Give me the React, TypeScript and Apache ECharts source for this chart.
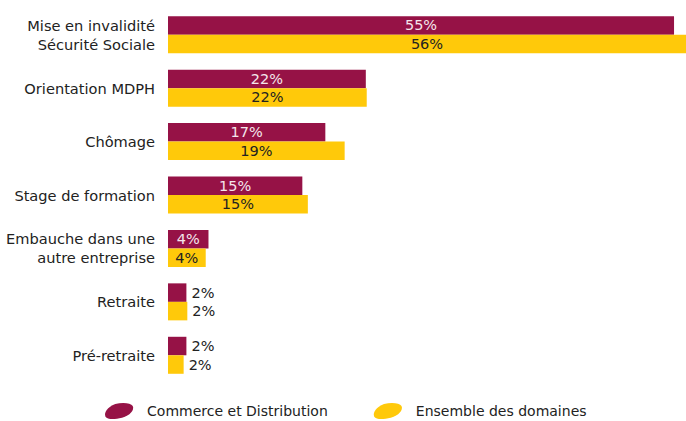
import React, { useEffect, useRef } from "react";
import * as echarts from "echarts";

const categories = [
  "Mise en invalidité\nSécurité Sociale",
  "Orientation MDPH",
  "Chômage",
  "Stage de formation",
  "Embauche dans une\nautre entreprise",
  "Retraite",
  "Pré-retraite",
];
const seriesNames = ["Commerce et Distribution", "Ensemble des domaines"];
const commerceValues = [55, 21.5, 17.1, 14.6, 4.4, 2.0, 2.0];
const ensembleValues = [56.3, 21.6, 19.2, 15.2, 4.1, 2.1, 1.7];
const commerceLabels = ["55%", "22%", "17%", "15%", "4%", "2%", "2%"];
const ensembleLabels = ["56%", "22%", "19%", "15%", "4%", "2%", "2%"];

const PURPLE = "#961246";
const YELLOW = "#FFC90A";
const FONT = "DejaVu Sans";
const ICON =
  "path://M2,14 C0,10 4,4 12,1 C20,-1 28,0 30,3 C32,7 27,13 19,15 C11,17 4,17 2,14 Z";

function buildData(values: number[], labels: string[], insideColor: string) {
  return values.map((v, i) => ({
    value: v,
    label:
      v < 3
        ? { show: true, position: "right", distance: 5, color: "#222", formatter: labels[i] }
        : { show: true, position: "inside", color: insideColor, formatter: labels[i] },
  }));
}

export default function App() {
  const ref = useRef<HTMLDivElement>(null);
  useEffect(() => {
    const chart = echarts.init(ref.current!, null, { renderer: "svg" });
    chart.setOption({
      animation: false,
      grid: { left: 168, right: 0, top: 8, bottom: 39, containLabel: false },
      xAxis: {
        type: "value",
        min: 0,
        max: 56.3,
        show: false,
      },
      yAxis: {
        type: "category",
        data: categories,
        inverse: true,
        axisLine: { show: false },
        axisTick: { show: false },
        axisLabel: {
          margin: 13,
          fontFamily: FONT,
          fontSize: 14.6,
          color: "#222",
          lineHeight: 19,
          align: "right",
        },
      },
      legend: {
        top: 398,
        left: 100,
        itemWidth: 30,
        itemHeight: 16,
        itemGap: 46,
        icon: ICON,
        textStyle: { fontFamily: FONT, fontSize: 14, color: "#222", padding: [0, 0, 0, 8] },
        data: seriesNames,
      },
      series: [
        {
          name: seriesNames[0],
          type: "bar",
          barWidth: 18.5,
          barGap: "0%",
          itemStyle: { color: PURPLE },
          label: { fontFamily: FONT, fontSize: 14.5 },
          data: buildData(commerceValues, commerceLabels, "#f4e6ec"),
        },
        {
          name: seriesNames[1],
          type: "bar",
          barWidth: 18.5,
          barGap: "0%",
          itemStyle: { color: YELLOW },
          label: { fontFamily: FONT, fontSize: 14.5 },
          data: buildData(ensembleValues, ensembleLabels, "#222"),
        },
      ],
    });
    return () => chart.dispose();
  }, []);
  return (
    <div
      ref={ref}
      style={{ position: "fixed", left: 0, top: 0, width: 686, height: 421, background: "#fff" }}
    />
  );
}
